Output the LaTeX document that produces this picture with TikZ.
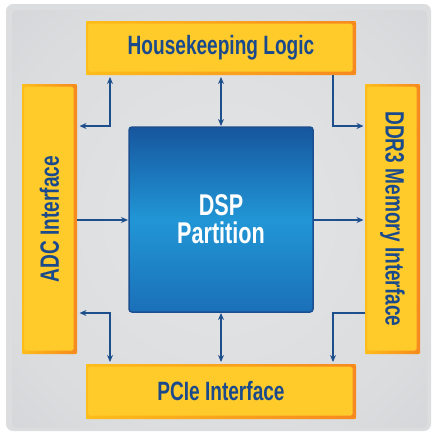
\documentclass[tikz,border=0pt]{standalone}
\usepackage{fontspec}
\usepackage{graphicx}
\setmainfont{Liberation Sans}
\newfontfamily\condfont[FakeStretch=0.72]{Liberation Sans}
\usetikzlibrary{arrows.meta}
\definecolor{txtblue}{HTML}{1B4A8C}
\definecolor{arrblue}{HTML}{1E4F8D}
\definecolor{yfill}{HTML}{FFCB2B}
\definecolor{yedgeA}{HTML}{FDBD1A}
\definecolor{yedgeB}{HTML}{F6891F}
\definecolor{rimgray}{HTML}{DCDDDF}
\definecolor{dsptop}{HTML}{16569E}
\definecolor{dspmid}{HTML}{2196D6}
\definecolor{dspbot}{HTML}{1B70B8}
\definecolor{dspedge}{HTML}{1B4F90}
\definecolor{pA}{HTML}{E4E5E7}
\definecolor{pB}{HTML}{DBDCDE}
\definecolor{pC}{HTML}{CBCCCF}
\definecolor{pD}{HTML}{B7B9BC}
\pgfdeclareradialshading{panelshade}{\pgfpoint{0bp}{0bp}}{color(0bp)=(pA); color(28bp)=(pB); color(50bp)=(pC); color(72bp)=(pD)}
\newcommand\yframe[1]{%
  \shade[left color=yedgeA, right color=yedgeB, even odd rule, rounded corners=1.5pt]
    (#1.north west) rectangle (#1.south east)
    ([shift={(2.2pt,-2.5pt)}]#1.north west) rectangle ([shift={(-3.5pt,3.5pt)}]#1.south east);}
\begin{document}
\begin{tikzpicture}[x=1pt,y=-1pt,
  ybox/.style={fill=yfill, inner sep=0pt, outer sep=0pt, text=txtblue,
    font=\condfont\bfseries\fontsize{26.5}{28}\selectfont},
  dspbox/.style={top color=dsptop, bottom color=dspbot, middle color=dspmid,
    draw=dspedge, line width=1.5pt, rounded corners=3pt, text=white, align=center,
    inner sep=0pt, outer sep=0pt, font=\condfont\bfseries\fontsize{30}{28}\selectfont},
  arr/.style={draw=arrblue, line width=1.4pt, >={Stealth[length=7pt,width=6pt]}}
]
\useasboundingbox (0,0) rectangle (432,432);
% panel
\fill[rimgray, rounded corners=7pt] (6,4) rectangle (431,431);
\shade[shading=panelshade, rounded corners=5pt] (12,10) rectangle (427,428);
% boxes
\node[ybox, minimum width=270pt, minimum height=54pt] (hk) at (221,48) {Housekeeping Logic};
\node[ybox, minimum width=55pt, minimum height=270pt] (adc) at (49.5,219) {\rotatebox{90}{ADC Interface}};
\node[ybox, minimum width=55pt, minimum height=270pt] (ddr) at (392.5,219) {\rotatebox{-90}{DDR3 Memory Interface}};
\node[ybox, minimum width=270pt, minimum height=55pt] (pcie) at (221,391.5) {PCIe Interface};
\yframe{hk}\yframe{adc}\yframe{ddr}\yframe{pcie}
\node[dspbox, minimum width=184pt, minimum height=185pt] (dsp) at (221,219.5) {DSP\\Partition};
% connectors
\draw[arr,<->, shorten <=2.5pt, shorten >=2pt] (adc.east |- 0,126) -| (hk.south -| 110,0);
\draw[arr,<->, shorten <=2pt, shorten >=1pt] (hk.south) -- (dsp.north);
\draw[arr,->, shorten >=1.5pt] (hk.south -| 333,0) |- (ddr.west |- 0,126);
\draw[arr,->, shorten >=1pt] (adc.east |- 0,220) -- (dsp.west |- 0,220);
\draw[arr,->, shorten <=1pt, shorten >=1.5pt] (dsp.east |- 0,220) -- (ddr.west |- 0,220);
\draw[arr,<->, shorten <=2.5pt, shorten >=2pt] (adc.east |- 0,313) -| (pcie.north -| 110,0);
\draw[arr,<->, shorten <=1pt, shorten >=2pt] (dsp.south) -- (pcie.north);
\draw[arr,->, shorten >=2pt] (ddr.west |- 0,313) -| (pcie.north -| 333,0);
\end{tikzpicture}
\end{document}
